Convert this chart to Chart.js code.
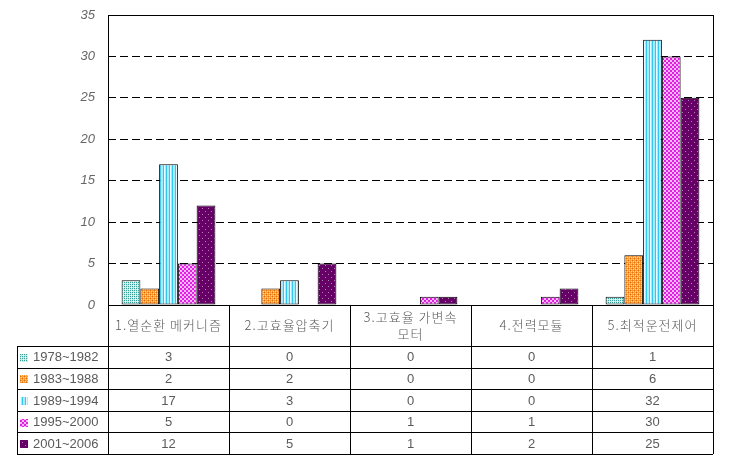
<!DOCTYPE html>
<html>
<head>
<meta charset="utf-8">
<script src="https://cdn.jsdelivr.net/npm/chart.js@4/dist/chart.umd.min.js"></script>
<style>
  body { margin: 0; background: #fff; }
  canvas { display: block; }
</style>
</head>
<body>
<canvas id="myChart" width="729" height="465"></canvas>
<script>
'use strict';

const categories = [['1.열순환 메커니즘'], ['2.고효율압축기'], ['3.고효율 가변속', '모터'], ['4.전력모듈'], ['5.최적운전제어']];
const seriesNames = ['1978~1982', '1983~1988', '1989~1994', '1995~2000', '2001~2006'];
const s1978 = [3, 0, 0, 0, 1];
const s1983 = [2, 2, 0, 0, 6];
const s1989 = [17, 3, 0, 0, 32];
const s1995 = [5, 0, 1, 1, 30];
const s2001 = [12, 5, 1, 2, 25];
const seriesValues = [s1978, s1983, s1989, s1995, s2001];

// small tiles to mimic the excel fill patterns
const makePattern = (w, h, paint) => {
  const c = document.createElement('canvas');
  c.width = w; c.height = h;
  const g = c.getContext('2d');
  paint(g);
  return g.createPattern(c, 'repeat');
};

const px = (g, color, pts) => {
  g.fillStyle = color;
  pts.forEach(([x, y, w = 1, h = 1]) => g.fillRect(x, y, w, h));
};

const patterns = [
  makePattern(4, 4, g => {
    px(g, '#c0efea', [[0, 0, 4, 4]]);
    px(g, '#3a9c96', [[0, 0], [2, 2], [2, 0], [0, 2]]);
    px(g, '#ffffff', [[1, 1], [3, 3]]);
  }),
  makePattern(4, 4, g => {
    px(g, '#ff9933', [[0, 0, 4, 4]]);
    px(g, '#ffd9a8', [[1, 1], [3, 3], [1, 3], [3, 1]]);
    px(g, '#e07010', [[0, 0], [2, 2]]);
  }),
  makePattern(6, 1, g => {
    px(g, '#a6ecff', [[0, 0, 6, 1]]);
    px(g, '#33c6f0', [[1, 0], [4, 0]]);
    px(g, '#e8fbff', [[2, 0]]);
  }),
  makePattern(4, 4, g => {
    px(g, '#ffb8ff', [[0, 0, 4, 4]]);
    px(g, '#e020e0', [[0, 0, 2, 2], [2, 2, 2, 2]]);
  }),
  makePattern(6, 6, g => {
    px(g, '#660066', [[0, 0, 6, 6]]);
    px(g, '#b080b0', [[1, 1], [4, 4]]);
  })
];

const textColor = '#5a5a5a';

const tablePlugin = {
  id: 'dataTable',
  afterDraw(chart) {
    const { ctx, chartArea: area, scales: { x } } = chart;
    const colW = area.width / categories.length;
    const top = area.bottom;
    const headH = 41;
    const rowH = 21.6;
    const bottom = top + headH + rowH * seriesNames.length;
    const legendLeft = 17;

    ctx.save();
    ctx.strokeStyle = '#000';
    ctx.lineWidth = 1;

    // plot frame
    ctx.strokeRect(Math.round(area.left) + 0.5, Math.round(area.top) + 0.5,
      Math.round(area.width), Math.round(area.height));

    ctx.beginPath();
    // horizontal lines
    ctx.moveTo(area.left, top + 0.5);
    ctx.lineTo(area.right, top + 0.5);
    for (let r = 0; r <= seriesNames.length; r++) {
      const y = Math.round(top + headH + r * rowH) + 0.5;
      ctx.moveTo(legendLeft, y);
      ctx.lineTo(area.right, y);
    }
    // vertical lines
    for (let c = 0; c <= categories.length; c++) {
      const xx = Math.round(area.left + c * colW) + 0.5;
      ctx.moveTo(xx, top);
      ctx.lineTo(xx, bottom);
    }
    ctx.moveTo(legendLeft + 0.5, top + headH);
    ctx.lineTo(legendLeft + 0.5, bottom);
    ctx.stroke();

    ctx.fillStyle = textColor;
    ctx.textAlign = 'center';
    ctx.textBaseline = 'middle';
    ctx.font = '300 13px "Noto Sans CJK KR", sans-serif';

    ctx.letterSpacing = '1px';
    categories.forEach((lines, i) => {
      const cx = x.getPixelForValue(i);
      const lh = 17;
      const y0 = top + headH / 2 - (lines.length - 1) * lh / 2;
      lines.forEach((t, k) => ctx.fillText(t, cx, y0 + k * lh));
    });
    ctx.letterSpacing = '0px';

    ctx.font = '13px "Liberation Sans", Arial, sans-serif';
    seriesValues.forEach((vals, r) => {
      const cy = top + headH + r * rowH + rowH / 2 + 1;
      vals.forEach((v, i) => ctx.fillText(String(v), x.getPixelForValue(i), cy));
      ctx.textAlign = 'left';
      ctx.fillStyle = patterns[r];
      ctx.fillRect(20, Math.round(cy - 4), 8, 8);
      ctx.fillStyle = textColor;
      ctx.fillText(seriesNames[r], 33, cy);
      ctx.textAlign = 'center';
    });
    ctx.restore();
  }
};

const ctx = document.getElementById('myChart').getContext('2d');

const chart = new Chart(ctx, {
  type: 'bar',
  data: {
    labels: categories.map(l => l.join(' ')),
    datasets: seriesNames.map((name, i) => ({
      label: name,
      data: seriesValues[i],
      backgroundColor: patterns[i],
      borderColor: '#000',
      borderWidth: 1,
      borderSkipped: false,
      categoryPercentage: 0.775,
      barPercentage: 1
    }))
  },
  options: {
    responsive: false,
    animation: false,
    layout: { padding: { left: 8, right: 16, top: 15, bottom: 152 } },
    plugins: { legend: { display: false }, tooltip: { enabled: false } },
    scales: {
      x: {
        ticks: { display: false },
        grid: { display: false },
        border: { display: false }
      },
      y: {
        min: 0,
        max: 35,
        ticks: {
          stepSize: 5,
          padding: 13,
          color: '#666',
          font: { family: '"Liberation Sans", Arial, sans-serif', size: 13, style: 'italic' }
        },
        grid: {
          drawTicks: false,
          color: c => (c.tick && (c.tick.value === 0 || c.tick.value === 35)) ? 'rgba(0,0,0,0)' : '#000'
        },
        border: { display: false, dash: [8, 4] },
        afterFit: s => { s.width = 100; s.paddingTop = 0; s.paddingBottom = 0; }
      }
    }
  },
  plugins: [tablePlugin]
});
</script>
</body>
</html>
